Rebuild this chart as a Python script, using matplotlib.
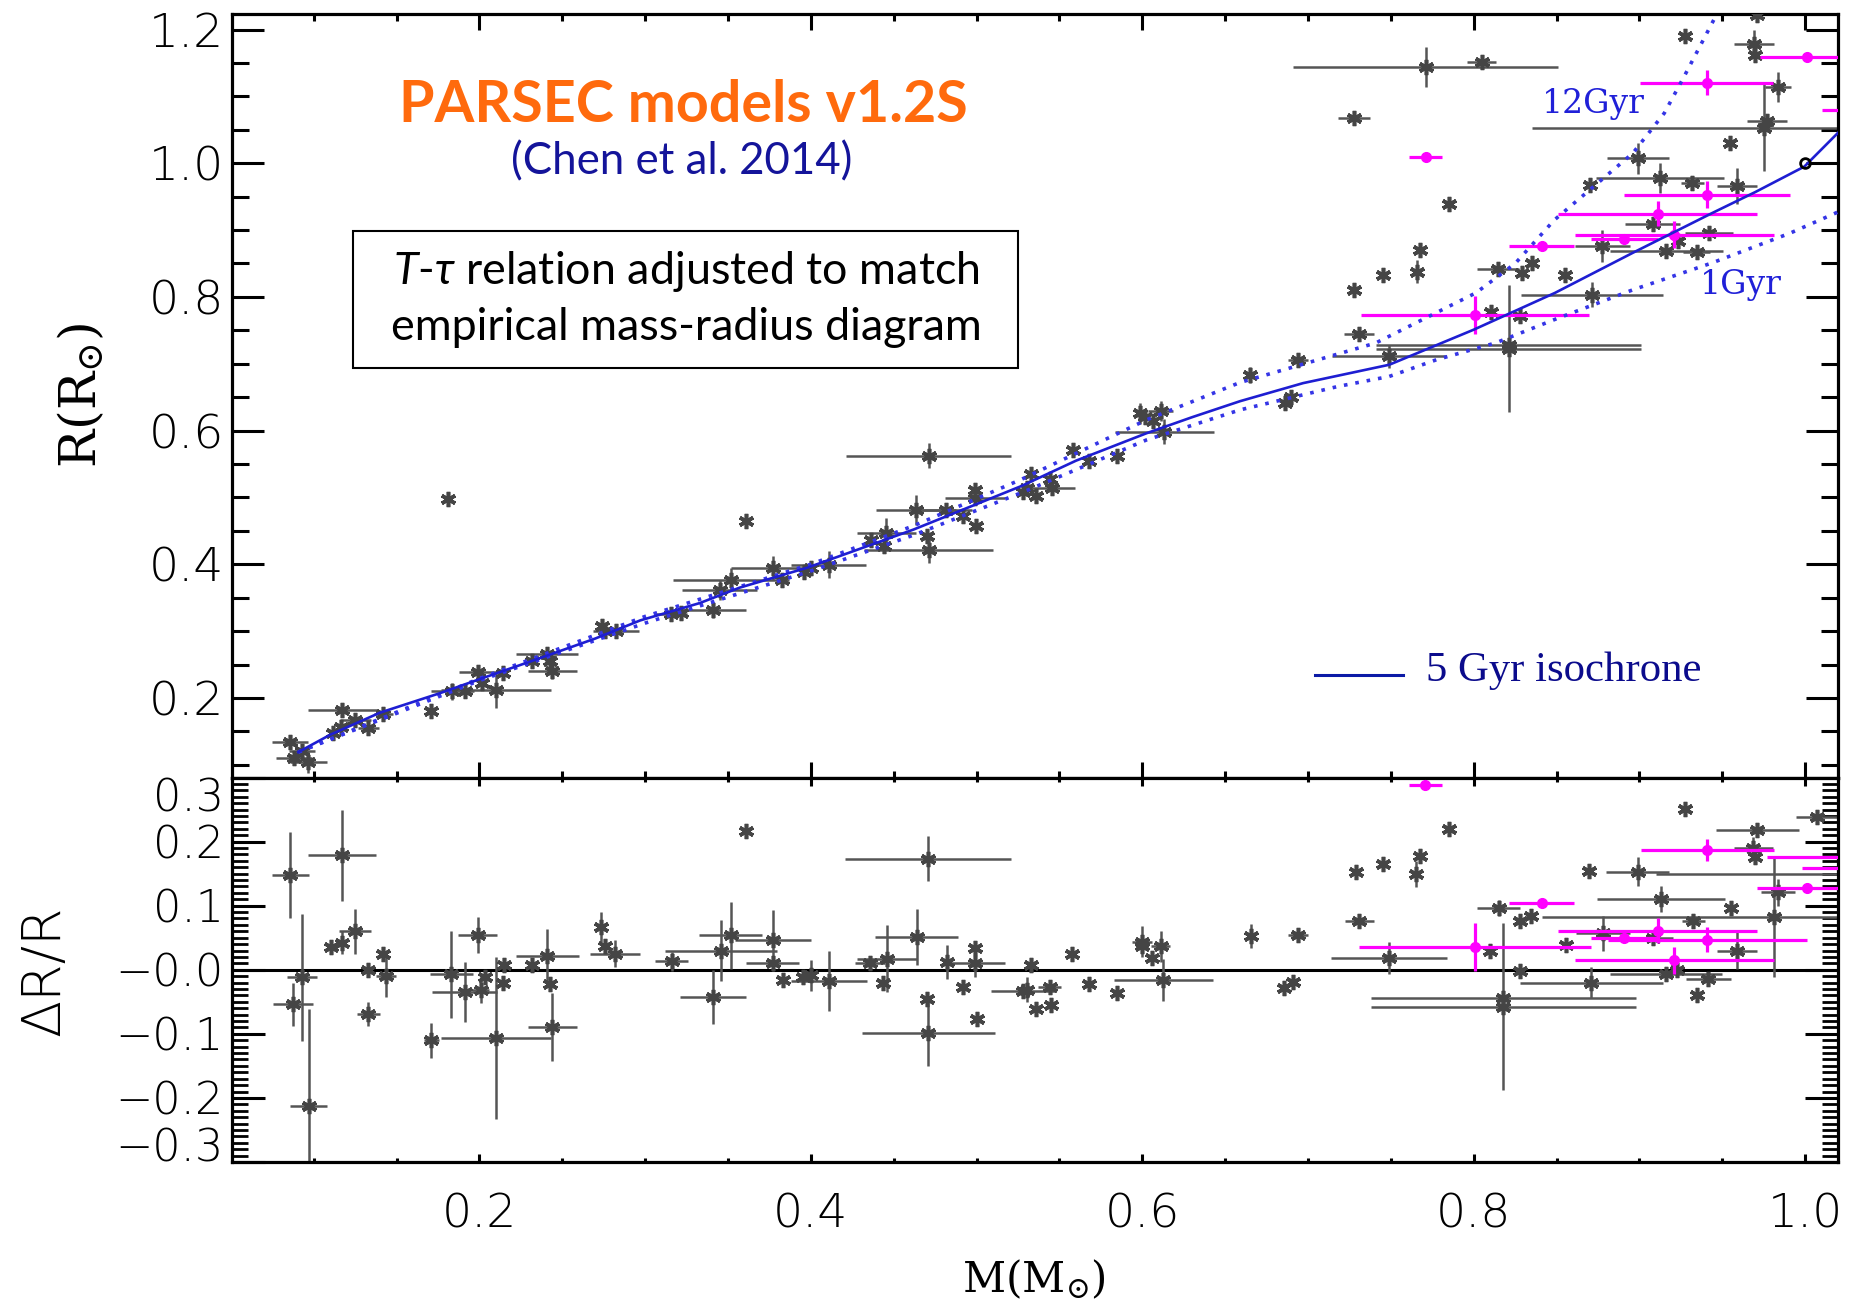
import numpy as np
import matplotlib
matplotlib.use("Agg")
import matplotlib.pyplot as plt
from matplotlib.ticker import MultipleLocator
from matplotlib.patches import Rectangle

# ---------------- data ----------------
# isochrones (top panel)
iso5_m = [0.0907, 0.11, 0.14, 0.176, 0.20, 0.237, 0.27, 0.297, 0.333, 0.357, 0.398, 0.462,
          0.527, 0.56, 0.6025, 0.63, 0.659, 0.697, 0.749, 0.80, 0.849, 0.896, 0.9435,
          0.97, 0.9995, 1.0204]
iso5_r = [0.119, 0.145, 0.178, 0.207, 0.228, 0.26, 0.289, 0.316, 0.342, 0.365, 0.395, 0.452,
          0.517, 0.555, 0.596, 0.62, 0.644, 0.671, 0.6985, 0.751, 0.806, 0.866, 0.925,
          0.957, 0.995, 1.047]
iso12_m = [0.0907, 0.20, 0.30, 0.40, 0.4624, 0.527, 0.6025, 0.659, 0.7408, 0.8013, 0.825,
           0.8486, 0.8723, 0.896, 0.915, 0.927, 0.9458]
iso12_r = [0.119, 0.229, 0.322, 0.40, 0.458, 0.527, 0.616, 0.672, 0.731, 0.806, 0.85,
           0.915, 0.965, 1.015, 1.075, 1.13, 1.219]
iso1_m = [0.0907, 0.20, 0.30, 0.40, 0.4624, 0.527, 0.6025, 0.659, 0.718, 0.749, 0.7775,
          0.813, 0.8486, 0.896, 0.9435, 0.991, 1.0204]
iso1_r = [0.119, 0.226, 0.312, 0.39, 0.444, 0.507, 0.586, 0.631, 0.666, 0.681, 0.706,
          0.731, 0.766, 0.8106, 0.8506, 0.8955, 0.9277]

# top panel, grey stars: mass, radius, mass error, radius error
top_gray_m = [0.0857, 0.0928, 0.0881, 0.0968, 0.1173, 0.1115, 0.1165, 0.125, 0.133, 0.142,
              0.1706, 0.181, 0.1836, 0.191, 0.199, 0.2018, 0.210, 0.2144, 0.232, 0.241,
              0.2425, 0.244, 0.274, 0.276, 0.2824, 0.3156, 0.3215, 0.3408, 0.345, 0.3516,
              0.377, 0.3826, 0.3956, 0.400, 0.4107, 0.3607, 0.436, 0.444, 0.4456, 0.4635,
              0.471, 0.470, 0.471, 0.4814, 0.492, 0.4995, 0.499, 0.499, 0.528, 0.533,
              0.5305, 0.5357, 0.544, 0.5454, 0.5583, 0.568, 0.5848, 0.5986, 0.6014, 0.6064,
              0.611, 0.6133, 0.665, 0.694, 0.6862, 0.6897, 0.728, 0.7455, 0.7656, 0.7676,
              0.785, 0.7277, 0.771, 0.8047, 0.731, 0.7486, 0.821, 0.821, 0.8107, 0.8278,
              0.8147, 0.829, 0.835, 0.8553, 0.8712, 0.870, 0.8776, 0.908, 0.923, 0.9162,
              0.9345, 0.9418, 0.932, 0.9126, 0.899, 0.9589, 0.9549, 0.9753, 0.977, 0.9836,
              0.969, 0.970, 0.9274, 0.9708]
top_gray_r = [0.1338, 0.120, 0.1104, 0.1044, 0.1827, 0.1478, 0.156, 0.1677, 0.155, 0.176,
              0.181, 0.4977, 0.210, 0.210, 0.2385, 0.2225, 0.2115, 0.2375, 0.255, 0.2664,
              0.256, 0.241, 0.307, 0.300, 0.2998, 0.326, 0.327, 0.331, 0.361, 0.377,
              0.3945, 0.377, 0.3885, 0.3945, 0.3995, 0.465, 0.436, 0.428, 0.447, 0.4807,
              0.5624, 0.442, 0.422, 0.4807, 0.4727, 0.458, 0.4992, 0.5106, 0.5076, 0.5355,
              0.514, 0.5016, 0.5276, 0.514, 0.5714, 0.554, 0.5624, 0.626, 0.620, 0.6138,
              0.6297, 0.598, 0.6836, 0.706, 0.642, 0.650, 0.8106, 0.833, 0.838, 0.8695,
              0.9388, 1.067, 1.1445, 1.151, 0.744, 0.711, 0.728, 0.7224, 0.778, 0.7708,
              0.8416, 0.8356, 0.8506, 0.833, 0.803, 0.9677, 0.8765, 0.909, 0.884, 0.868,
              0.8665, 0.8954, 0.971, 0.9776, 1.0075, 0.966, 1.031, 1.053, 1.0635, 1.1137,
              1.179, 1.162, 1.191, 1.222]
top_gray_me = [0.011, 0.008, 0.011, 0.011, 0.0206, 0, 0, 0.0093, 0.0063, 0.0057,
               0, 0, 0.013, 0, 0.0116, 0, 0.033, 0, 0, 0.0187,
               0, 0.0146, 0, 0, 0.014, 0.0096, 0, 0.020, 0.0226, 0.035,
               0.025, 0, 0, 0, 0.0226, 0, 0, 0, 0.018, 0.024,
               0.0496, 0, 0.039, 0.016, 0, 0, 0.018, 0, 0, 0,
               0, 0, 0, 0.014, 0, 0, 0, 0, 0, 0,
               0.0075, 0.030, 0, 0.006, 0, 0, 0, 0, 0, 0,
               0, 0.0097, 0.080, 0.0085, 0.009, 0.0344, 0.080, 0.080, 0, 0,
               0.0127, 0, 0, 0, 0.0427, 0, 0.0166, 0.0166, 0, 0.034,
               0.008, 0.0145, 0.007, 0.0386, 0.0187, 0.012, 0, 0.140, 0.012, 0.0077,
               0.012, 0, 0, 0]
top_gray_re = [0, 0, 0, 0.016, 0.010, 0, 0, 0, 0, 0,
               0, 0, 0.013, 0, 0, 0, 0.026, 0, 0, 0.006,
               0, 0.012, 0, 0, 0, 0, 0, 0.012, 0.015, 0.017,
               0.0175, 0, 0, 0, 0.020, 0, 0, 0, 0.0224, 0.0224,
               0.0187, 0, 0.02, 0, 0, 0, 0, 0, 0, 0,
               0, 0, 0, 0, 0, 0, 0, 0.016, 0, 0,
               0.015, 0.0187, 0.012, 0, 0, 0, 0, 0, 0.0175, 0,
               0, 0, 0.030, 0, 0, 0.0175, 0, 0.095, 0, 0,
               0, 0, 0, 0, 0.0187, 0, 0.0237, 0, 0, 0,
               0, 0, 0, 0.022, 0.0235, 0.027, 0, 0.065, 0, 0.0224,
               0.020, 0, 0, 0]

# top panel, magenta stars
top_mag_m = [0.771, 0.8008, 0.841, 0.8909, 0.911, 0.921, 0.9406, 0.9406, 1.001, 1.05]
top_mag_r = [1.010, 0.773, 0.8765, 0.8865, 0.9243, 0.893, 0.9527, 1.1206, 1.1586, 1.08]
top_mag_me = [0.010, 0.069, 0.0196, 0.020, 0.060, 0.060, 0.050, 0.040, 0.028, 0.04]
top_mag_re = [0, 0.029, 0, 0, 0.0187, 0.020, 0.020, 0.0187, 0, 0]

# bottom panel, grey stars: mass, dR/R, mass error, dR/R error
bot_gray_m = [0.0859, 0.117, 0.093, 0.0875, 0.097, 0.1106, 0.117, 0.125, 0.133, 0.133,
              0.142, 0.1436, 0.171, 0.183, 0.199, 0.191, 0.2036, 0.2008, 0.215, 0.214,
              0.210, 0.232, 0.241, 0.2424, 0.244, 0.2736, 0.2756, 0.282,
              0.316, 0.341, 0.3458, 0.3518, 0.361, 0.377, 0.377, 0.383, 0.3955, 0.400,
              0.411, 0.4357, 0.4437, 0.4458, 0.4639, 0.4709, 0.482, 0.499, 0.499, 0.492,
              0.470, 0.4709, 0.500, 0.533, 0.528, 0.5306, 0.536, 0.544, 0.545, 0.5578,
              0.5678, 0.5846,
              0.600, 0.600, 0.6056, 0.611, 0.6127, 0.6654, 0.6855, 0.691, 0.6942, 0.7288,
              0.7455, 0.7676, 0.765, 0.785, 0.731, 0.749, 0.8178, 0.8178,
              0.9275, 1.007, 0.971, 0.9687, 0.9697, 0.8697, 0.899, 0.815, 0.981, 0.913,
              0.955, 0.9836, 0.9325, 0.828, 0.8345, 0.810, 0.8555, 0.878, 0.908, 0.9587,
              0.828, 0.871, 0.916, 0.9225, 0.9416, 0.935, 1.05]
bot_gray_d = [0.148, 0.179, -0.012, -0.054, -0.2125, 0.0355, 0.042, 0.060, 0.0, -0.069,
              0.024, -0.010, -0.110, -0.0074, 0.0547, -0.035, -0.011, -0.031, 0.008, -0.020,
              -0.1066, 0.008, 0.022, -0.023, -0.0895, 0.0665, 0.0366, 0.025,
              0.0133, -0.042, 0.030, 0.0536, 0.216, 0.046, 0.011, -0.016, -0.012, -0.0084,
              -0.017, 0.011, -0.020, 0.0175, 0.051, 0.1735, 0.0123, 0.0098, 0.034, -0.0275,
              -0.0456, -0.099, -0.077, 0.008, -0.033, -0.031, -0.0616, -0.0275, -0.055, 0.0242,
              -0.0223, -0.037,
              0.044, 0.037, 0.018, 0.0366, -0.016, 0.0526, -0.029, -0.0197, 0.0547, 0.152,
              0.165, 0.1776, 0.149, 0.220, 0.076, 0.019, -0.0435, -0.0575,
              0.251, 0.2386, 0.218, 0.1906, 0.176, 0.154, 0.153, 0.0966, 0.082, 0.110,
              0.097, 0.121, 0.076, 0.076, 0.0836, 0.030, 0.038, 0.057, 0.049, 0.030,
              -0.0022, -0.020, -0.0073, -0.0006, -0.015, -0.039, 0.15]
bot_gray_me = [0.011, 0.0206, 0.009, 0.012, 0.011, 0, 0, 0.0097, 0, 0.007,
               0, 0.0063, 0.0047, 0.013, 0.0118, 0.0196, 0, 0.005, 0, 0,
               0.033, 0, 0.019, 0, 0.0149, 0, 0, 0.015,
               0.010, 0.020, 0.034, 0.019, 0, 0.023, 0.016, 0, 0, 0,
               0.023, 0.009, 0, 0.018, 0.025, 0.050, 0, 0.018, 0, 0,
               0, 0.040, 0, 0, 0.0196, 0, 0, 0.007, 0, 0,
               0, 0,
               0.006, 0, 0, 0.006, 0.030, 0, 0, 0, 0.006, 0,
               0, 0, 0, 0, 0.0088, 0.035, 0.080, 0.080,
               0, 0.0127, 0.025, 0.0118, 0, 0, 0.019, 0.013, 0.140, 0.0387,
               0, 0.010, 0.007, 0, 0, 0, 0, 0.016, 0.0123, 0.012,
               0, 0.043, 0.034, 0, 0.0138, 0, 0.14]
bot_gray_de = [0.067, 0.071, 0.099, 0.034, 0.152, 0, 0.018, 0.035, 0, 0.019,
               0, 0.033, 0.027, 0.068, 0.028, 0.0465, 0, 0.021, 0, 0,
               0.127, 0, 0.041, 0, 0.053, 0.023, 0, 0.021,
               0.015, 0.042, 0.047, 0.052, 0, 0.048, 0.010, 0, 0, 0.024,
               0.047, 0, 0, 0.053, 0.044, 0.035, 0.026, 0.021, 0, 0,
               0, 0.051, 0, 0, 0, 0.019, 0, 0, 0, 0,
               0, 0,
               0.024, 0, 0, 0.024, 0.033, 0.019, 0, 0, 0, 0,
               0, 0.007, 0.020, 0, 0, 0.025, 0, 0.130,
               0, 0, 0, 0.016, 0, 0, 0.023, 0.012, 0.093, 0.020,
               0, 0.021, 0, 0, 0, 0, 0, 0.027, 0, 0.029,
               0, 0.024, 0, 0, 0, 0, 0]

# bottom panel, magenta stars
bot_mag_m = [0.7708, 0.801, 0.841, 0.941, 1.001, 0.911, 0.8907, 0.941, 0.921, 1.05, 1.05]
bot_mag_d = [0.2877, 0.0355, 0.104, 0.187, 0.128, 0.061, 0.0495, 0.047, 0.015, 0.176, 0.1585]
bot_mag_me = [0.010, 0.070, 0.0196, 0.040, 0.030, 0.060, 0.020, 0.060, 0.060, 0.073, 0.052]
bot_mag_de = [0, 0.038, 0, 0.017, 0, 0.020, 0, 0.020, 0.021, 0, 0]

sun_m, sun_r = [1.0], [1.0]

top_yticks = [0.2, 0.4, 0.6, 0.8, 1.0, 1.2]
top_ylabels = ["0.2", "0.4", "0.6", "0.8", "1.0", "1.2"]
bot_yticks = [-0.3, -0.2, -0.1, 0.0, 0.1, 0.2, 0.3]
bot_ylabels = ["\u22120.3", "\u22120.2", "\u22120.1", "\u22120.0", "0.1", "0.2", "0.3"]
xticks = [0.2, 0.4, 0.6, 0.8, 1.0]
xlabels = ["0.2", "0.4", "0.6", "0.8", "1.0"]

# ---------------- figure ----------------
W, H = 1856, 1310
fig = plt.figure(figsize=(W / 100, H / 100), dpi=100)
fig.patch.set_facecolor("white")

L, R = 232, 1838
T1, B1, B2 = 13.5, 777.5, 1162
ax1 = fig.add_axes([L / W, 1 - B1 / H, (R - L) / W, (B1 - T1) / H])
ax2 = fig.add_axes([L / W, 1 - B2 / H, (R - L) / W, (B2 - B1) / H])

GRAY = "#454545"
EGRAY = "#555555"
MAG = "#ff00ff"
BLUE = "#1e1ed2"
DBLUE = "#3535e6"
TICKFONT = dict(family=["DejaVu Sans"], fontsize=34, fontweight="light")
BTICKFONT = dict(family=["DejaVu Sans"], fontsize=32, fontweight="light")
star = (6, 2, 0)

for ax in (ax1, ax2):
    ax.set_xlim(0.0507, 1.0198)
    for s in ax.spines.values():
        s.set_linewidth(2.3)
    ax.xaxis.set_minor_locator(MultipleLocator(0.05))

ax1.set_ylim(0.081, 1.224)
ax2.set_ylim(-0.298, 0.299)

# top panel
ax1.errorbar(top_gray_m, top_gray_r, xerr=top_gray_me, yerr=top_gray_re, fmt="none",
             ecolor=EGRAY, elinewidth=1.8, capsize=0, zorder=2)
ax1.plot(top_gray_m, top_gray_r, ls="none", marker=star, ms=11, mew=2.6, color=GRAY, zorder=3)
ax1.errorbar(top_mag_m, top_mag_r, xerr=top_mag_me, yerr=top_mag_re, fmt="o", ms=7,
             color=MAG, ecolor=MAG, elinewidth=2.3, capsize=0, zorder=4)
ax1.plot(iso12_m, iso12_r, color=DBLUE, lw=2.6, ls=(0, (1, 2.2)), zorder=5)
ax1.plot(iso1_m, iso1_r, color=DBLUE, lw=2.6, ls=(0, (1, 2.2)), zorder=5)
ax1.plot(iso5_m, iso5_r, color=BLUE, lw=1.9, zorder=6)
ax1.plot(sun_m, sun_r, "o", mfc="none", mec="black", ms=7, mew=2, zorder=7)

ax1.set_yticks(top_yticks, top_ylabels, **TICKFONT)
ax1.yaxis.set_minor_locator(MultipleLocator(0.05))
ax1.set_xticks(xticks)
ax1.tick_params(axis="y", which="major", direction="in", length=23, width=2.2,
                left=True, right=True, pad=6)
ax1.tick_params(axis="y", which="minor", direction="in", length=12, width=2.2,
                left=True, right=True)
ax1.tick_params(axis="x", which="major", direction="in", length=11.5, width=2.2,
                top=True, bottom=True, labelbottom=False)
ax1.tick_params(axis="x", which="minor", direction="in", length=5, width=2.2,
                top=True, bottom=True)

# bottom panel
ax2.axhline(0.0, color="black", lw=2.2, zorder=1)
ax2.errorbar(bot_gray_m, bot_gray_d, xerr=bot_gray_me, yerr=bot_gray_de, fmt="none",
             ecolor=EGRAY, elinewidth=1.8, capsize=0, zorder=2)
ax2.plot(bot_gray_m, bot_gray_d, ls="none", marker=star, ms=11, mew=2.6, color=GRAY, zorder=3)
ax2.errorbar(bot_mag_m, bot_mag_d, xerr=bot_mag_me, yerr=bot_mag_de, fmt="o", ms=7,
             color=MAG, ecolor=MAG, elinewidth=2.3, capsize=0, zorder=4)

ax2.set_yticks(bot_yticks, bot_ylabels, **BTICKFONT)
ax2.yaxis.set_minor_locator(MultipleLocator(0.01))
ax2.set_xticks(xticks, xlabels, **TICKFONT)
ax2.tick_params(axis="y", which="major", direction="in", length=24, width=2.2,
                left=True, right=True, pad=6)
ax2.tick_params(axis="y", which="minor", direction="in", length=11.5, width=2.0,
                left=True, right=True)
ax2.tick_params(axis="x", which="major", direction="in", length=5.5, width=2.2,
                top=True, bottom=True, pad=22)
ax2.tick_params(axis="x", which="minor", direction="in", length=3, width=2.2,
                top=True, bottom=True)
ylabs = ax2.get_yticklabels()
ylabs[0].set_va("baseline")
ylabs[-1].set_va("top")

# ---------------- text ----------------
renderer = fig.canvas.get_renderer()


def ftext(x, y, s, target=None, vertical=False, **kw):
    t = fig.text(x / W, 1 - y / H, s, **kw)
    if target:
        bb = t.get_window_extent(renderer)
        size = bb.height if vertical else bb.width
        t.set_fontsize(t.get_fontsize() * target / size)
    return t


ftext(683, 106, "PARSEC models v1.2S", target=568, ha="center", va="center",
      color="#ff6a0d", fontweight="bold", family=["Lato", "DejaVu Sans"], fontsize=36)
ftext(682, 162, "(Chen et al. 2014)", target=341, ha="center", va="center",
      color="#14149a", family=["Lato", "DejaVu Sans"], fontsize=26)

fig.add_artist(Rectangle((353 / W, 1 - 368 / H), (1018 - 353) / W, (368 - 231) / H,
                         transform=fig.transFigure, facecolor="white", edgecolor="black",
                         lw=1.5, zorder=2))
plt.rcParams["mathtext.fontset"] = "custom"
plt.rcParams["mathtext.rm"] = "Lato"
plt.rcParams["mathtext.it"] = "Lato:italic"
l2 = ftext(686, 328, "empirical mass-radius diagram", target=592, ha="center", va="center",
           color="black", family=["Lato", "DejaVu Sans"], fontsize=30, zorder=3)
ftext(686, 272, r"$\mathit{T}$-$\mathit{\tau}$ relation adjusted to match", ha="center",
      va="center", color="black", family=["Lato", "DejaVu Sans"],
      fontsize=l2.get_fontsize(), zorder=3)

g12 = ftext(1593, 104, "12Gyr", target=103, ha="center", va="center", color="#2020d8",
            family=["DejaVu Serif"], fontsize=24)
ftext(1741, 285, "1Gyr", ha="center", va="center", color="#2020d8",
      family=["DejaVu Serif"], fontsize=g12.get_fontsize())

fig.add_artist(plt.Line2D([1315 / W, 1403 / W], [1 - 675 / H, 1 - 675 / H],
                          transform=fig.transFigure, color="#0c1aa6", lw=2.2))
ftext(1426, 671, "5 Gyr isochrone", target=275, ha="left", va="center", color="#0b0b8c",
      family=["Liberation Serif", "DejaVu Serif"], fontsize=28)

# axis labels
plt.rcParams["mathtext.fontset"] = "dejavuserif"
ftext(82, 395, r"R(R$_{\odot}$)", target=146, vertical=True, rotation=90, ha="center",
      va="center", family=["DejaVu Serif"], fontsize=32, fontweight="light")
ftext(45, 971, "\u0394R/R", target=131, vertical=True, rotation=90, ha="center",
      va="center", family=["DejaVu Sans"], fontsize=32, fontweight="light")
ftext(1034, 1280, r"M(M$_{\odot}$)", target=144, ha="center", va="center",
      family=["DejaVu Serif"], fontsize=32, fontweight="light")

fig.savefig("out.png", dpi=100, facecolor="white")
